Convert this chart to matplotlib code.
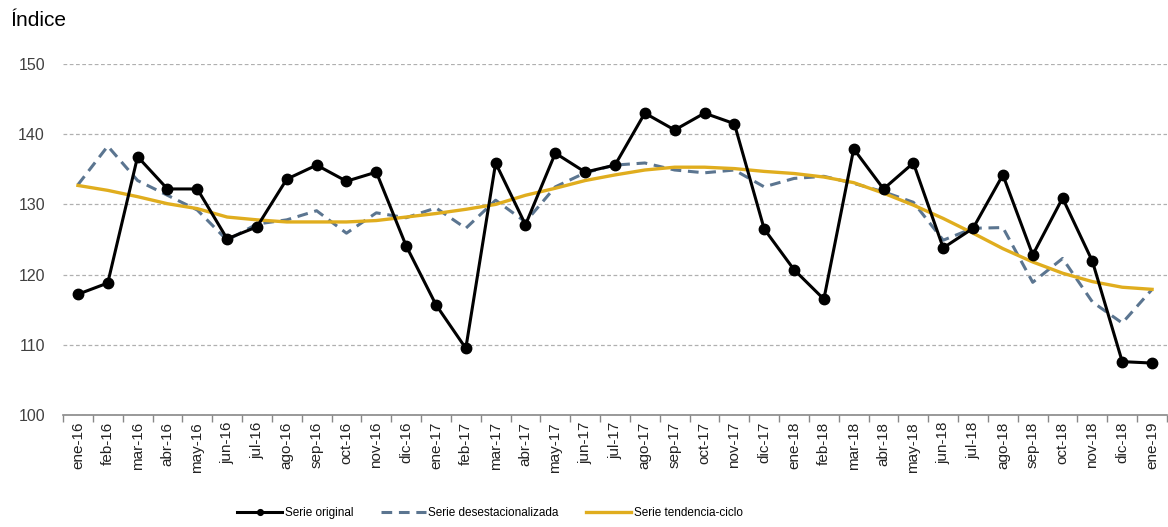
import matplotlib.pyplot as plt
from matplotlib.ticker import FixedLocator, NullFormatter

plt.rcParams['font.family'] = ['Liberation Sans', 'DejaVu Sans']

meses = ["ene-16", "feb-16", "mar-16", "abr-16", "may-16", "jun-16", "jul-16", "ago-16",
         "sep-16", "oct-16", "nov-16", "dic-16", "ene-17", "feb-17", "mar-17", "abr-17",
         "may-17", "jun-17", "jul-17", "ago-17", "sep-17", "oct-17", "nov-17", "dic-17",
         "ene-18", "feb-18", "mar-18", "abr-18", "may-18", "jun-18", "jul-18", "ago-18",
         "sep-18", "oct-18", "nov-18", "dic-18", "ene-19"]

original = [117.2, 118.8, 136.8, 132.2, 132.2, 125.1, 126.8, 133.6, 135.6, 133.3, 134.6,
            124.1, 115.7, 109.5, 135.9, 127.1, 137.3, 134.6, 135.6, 143.0, 140.6, 143.0,
            141.5, 126.5, 120.7, 116.5, 137.9, 132.2, 135.9, 123.8, 126.6, 134.2, 122.8,
            130.9, 121.9, 107.6, 107.4]

desest = [132.8, 138.3, 133.4, 131.3, 129.2, 124.9, 127.2, 127.8, 129.1, 125.9, 128.8,
          128.1, 129.5, 126.6, 130.6, 127.5, 132.5, 134.5, 135.6, 135.9, 134.9, 134.5,
          134.9, 132.5, 133.7, 134.0, 133.0, 131.8, 130.3, 124.9, 126.6, 126.7, 118.9,
          122.3, 116.1, 113.1, 117.9]

tendencia = [132.7, 132.0, 131.1, 130.1, 129.4, 128.2, 127.8, 127.5, 127.5, 127.5, 127.7,
             128.2, 128.7, 129.3, 130.0, 131.3, 132.3, 133.4, 134.2, 134.9, 135.3, 135.3,
             135.1, 134.7, 134.4, 133.9, 133.1, 131.6, 129.9, 128.0, 125.9, 123.7, 121.8,
             120.2, 119.0, 118.2, 117.9]

x = list(range(len(meses)))

fig = plt.figure(figsize=(11.68, 5.27), dpi=100)
ax = fig.add_axes([63 / 1168, 1 - 415 / 527, 1104 / 1168, 351 / 527])

ax.plot(x, original, color="black", lw=2.2, marker="o", ms=7.5, label="Serie original", zorder=3)
ax.plot(x, desest, color="#5b7590", lw=2.2, ls=(0, (3.5, 2.2)), label="Serie desestacionalizada", zorder=2)
ax.plot(x, tendencia, color="#e0ad1e", lw=2.4, label="Serie tendencia-ciclo", zorder=2)

ax.set_ylim(100, 150)
ax.set_xlim(-0.5, len(meses) - 0.5)
ax.set_yticks([100, 110, 120, 130, 140, 150])
ax.yaxis.grid(True, color="#b0b0b0", ls=(0, (3, 2)), lw=0.9)
ax.set_axisbelow(True)

ax.set_xticks(x)
ax.set_xticklabels(meses, rotation=90, fontsize=11, color="#222222")
ax.tick_params(axis="x", which="major", length=0, pad=5)
ax.xaxis.set_minor_locator(FixedLocator([i - 0.5 for i in range(len(meses) + 1)]))
ax.xaxis.set_minor_formatter(NullFormatter())
ax.tick_params(axis="x", which="minor", length=5, color="#888888", width=1)
ax.tick_params(axis="y", length=0, labelsize=11.5, labelcolor="#404040", pad=13)

for s in ["top", "right", "left"]:
    ax.spines[s].set_visible(False)
ax.spines["bottom"].set_color("#888888")
ax.spines["bottom"].set_linewidth(1.2)

fig.text(10 / 1168, 1 - 20 / 527, "Índice", fontsize=15, va="center", ha="left")

fig.legend(loc="center", bbox_to_anchor=(490 / 1168, 1 - 513 / 527), ncol=3, frameon=False,
           fontsize=8.5, handlelength=3.8, columnspacing=2.3, handletextpad=0.25,
           markerscale=0.55)

fig.savefig("out.png", dpi=100)
